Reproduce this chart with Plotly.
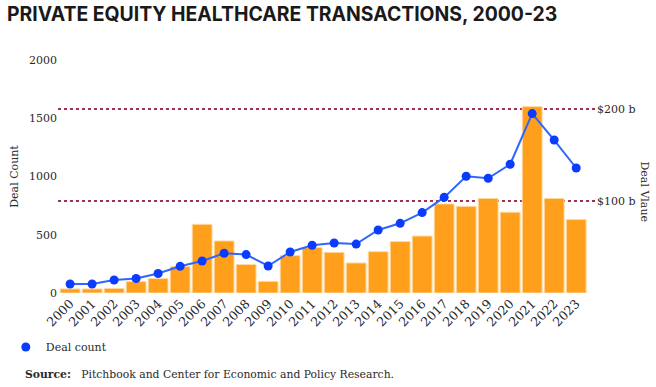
import plotly.graph_objects as go

years = [str(y) for y in range(2000, 2024)]
deal_value_b = [4.4, 4.4, 5.0, 12.4, 15.7, 28.8, 74.8, 56.7, 31.0, 12.7, 40.7, 49.5,
                44.3, 32.7, 45.0, 56.0, 62.0, 97.0, 94.4, 103.0, 88.0, 203.0, 103.0, 80.0]
deal_count = [77, 77, 112, 124, 167, 229, 275, 341, 330, 232, 352, 410,
              429, 420, 541, 598, 690, 821, 1002, 985, 1105, 1540, 1313, 1073]
count_ticks = [0, 500, 1000, 1500, 2000]
value_ticks = [100, 200]
value_ticktext = ["$100 b", "$200 b"]

SERIF = "DejaVu Serif"
TXT = "#2a2a2a"

fig = go.Figure()
fig.add_trace(go.Bar(
    x=years, y=deal_value_b, yaxis="y", name="Deal value",
    marker=dict(color="#FF9F1C", line=dict(color="#FFD9A0", width=1)),
    showlegend=False,
))
fig.add_trace(go.Scatter(
    x=years, y=deal_count, yaxis="y2", name="Deal count line", mode="lines",
    line=dict(color="#2F66FF", width=2), showlegend=False,
))
fig.add_trace(go.Scatter(
    x=years, y=deal_count, yaxis="y2", name="Deal count", mode="markers",
    marker=dict(color="#0A3CFF", size=9),
))

fig.update_layout(
    width=656, height=387,
    margin=dict(l=58, r=60, t=60, b=94, autoexpand=False),
    paper_bgcolor="white", plot_bgcolor="white",
    bargap=0.1,
    title=dict(text="<b>PRIVATE EQUITY HEALTHCARE TRANSACTIONS, 2000-23</b>",
               x=7/656, xref="container", xanchor="left",
               y=1-14/387, yref="container", yanchor="middle",
               font=dict(family="Inter", size=19.4, color="#1a1a1a")),
    xaxis=dict(type="category", range=[-0.55, 23.9], tickangle=-45, automargin=False,
               showgrid=False, showline=False, ticks="",
               tickfont=dict(family=SERIF, size=12.5, color=TXT)),
    yaxis=dict(side="right", range=[0, 2000/7.88], tickvals=value_ticks, ticktext=value_ticktext,
               automargin=False,
               showgrid=True, gridcolor="#A3304F", griddash="dot", gridwidth=1.5,
               zeroline=False, showline=False, ticks="",
               tickfont=dict(family=SERIF, size=11, color=TXT)),
    yaxis2=dict(side="left", overlaying="y", range=[0, 2000], tickvals=count_ticks,
                automargin=False,
                showgrid=False, zeroline=False, showline=False, ticks="",
                tickfont=dict(family=SERIF, size=11, color=TXT),
                title=dict(text="Deal Count", font=dict(family=SERIF, size=11, color=TXT), standoff=8)),
    legend=dict(orientation="h", x=-0.097, xanchor="left", y=-(347-293)/233, yanchor="middle",
                font=dict(family=SERIF, size=11, color=TXT), bgcolor="rgba(0,0,0,0)"),
    showlegend=True,
)

fig.add_annotation(text="Deal Vlaue", textangle=90, xref="paper", yref="paper",
                   x=(653-58)/538, y=(293-192)/233, showarrow=False,
                   font=dict(family=SERIF, size=11, color=TXT))
fig.add_annotation(text="<b>Source:</b>   Pitchbook and Center for Economic and Policy Research.",
                   xref="paper", yref="paper", x=(23-58)/538, xanchor="left",
                   y=-(374-293)/233, yanchor="middle", showarrow=False,
                   font=dict(family=SERIF, size=10.8, color=TXT))

fig.write_html("out.html", config={"displayModeBar": False},
               post_script="document.body.style.margin='0';")
